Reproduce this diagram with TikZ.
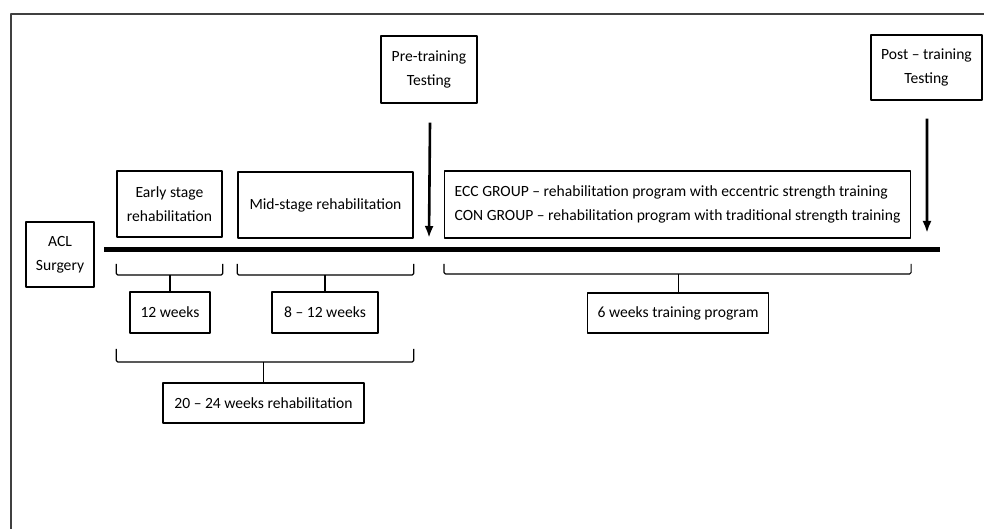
\documentclass[tikz,border=0pt]{standalone}
\usepackage{fontspec}
\setmainfont{Carlito}
\usetikzlibrary{calc,arrows.meta}
\tikzset{
  stagebox/.style={draw,line width=1.4bp,align=center,inner sep=0pt,font=\fontsize{15.6bp}{24bp}\selectfont},
  brace/.style={line width=1.2bp,rounded corners=1.5bp},
}
\begin{document}
\begin{tikzpicture}[>={Latex[length=12bp,width=9bp]},line join=bevel,x=1bp,y=1bp]
  \useasboundingbox (0,0) rectangle (984,529);
%%
  % Frame
  \draw [line width=2bp,black!75] (11,0) -- (11,515) -- (984,515);
  % Node: ACL
  \node [stagebox,minimum width=68bp,minimum height=65bp] (acl) at (60,274.5) {ACL\\Surgery};
  % Node: Early
  \node [stagebox,minimum width=105bp,minimum height=66bp] (early) at (169.5,325) {Early stage\\rehabilitation};
  % Node: Mid
  \node [stagebox,minimum width=175bp,minimum height=66bp] (mid) at (325.5,324) {Mid-stage rehabilitation};
  % Node: Pre
  \node [stagebox,minimum width=96bp,minimum height=67bp] (pre) at (429,459.5) {Pre-training\\Testing};
  % Node: Post
  \node [stagebox,minimum width=111bp,minimum height=65bp] (post) at (926.5,461.5) {Post -- training\\Testing};
  % Node: Groups
  \node [stagebox,align=left,anchor=west,inner xsep=10bp,minimum height=67bp] (groups) at (444,324.5)
    {ECC GROUP -- rehabilitation program with eccentric strength training\\CON GROUP -- rehabilitation program with traditional strength training};
  % Node: Weeks
  \node [stagebox,minimum width=80bp,minimum height=41bp] (wk12) at (170,216.5) {12 weeks};
  \node [stagebox,minimum width=106bp,minimum height=41bp] (wk812) at (325,216.5) {8 -- 12 weeks};
  \node [stagebox,anchor=west,inner xsep=10bp,minimum height=40bp] (wk6) at (587,216) {6 weeks training program};
  \node [stagebox,minimum width=201bp,minimum height=40bp] (wk2024) at (263.5,126) {20 -- 24 weeks rehabilitation};
%%
  % Timeline
  \coordinate (tstart) at (104,279);
  \coordinate (tend) at (940,279);
  \draw [line width=5bp] (tstart) -- (tend);
  % Testing arrows
  \coordinate (pretip) at (429,291);
  \coordinate (posttip) at (927,296);
  \draw [->,line width=2.6bp] ($(pre.south)+(1,-19)$) -- (pretip);
  \draw [->,line width=2.6bp] ($(post.south)+(0.5,-18)$) -- (posttip);
  % Braces
  \draw [brace] (early.west |- 0,265) -- (early.west |- 0,254) -- (early.east |- 0,254) -- (early.east |- 0,265);
  \draw [brace] (wk12.north) -- (wk12.north |- 0,254);
  \draw [brace] (mid.west |- 0,265) -- (mid.west |- 0,254) -- (mid.east |- 0,254) -- (mid.east |- 0,265);
  \draw [brace] (wk812.north) -- (wk812.north |- 0,254);
  \draw [brace] (groups.west |- 0,265) -- (groups.west |- 0,255) -- (groups.east |- 0,255) -- (groups.east |- 0,265);
  \draw [brace] (wk6.north) -- (wk6.north |- 0,255);
  \draw [brace] (early.west |- 0,180) -- (early.west |- 0,167) -- (mid.east |- 0,167) -- (mid.east |- 0,180);
  \draw [brace] (wk2024.north) -- (wk2024.north |- 0,167);
%
\end{tikzpicture}
\end{document}
